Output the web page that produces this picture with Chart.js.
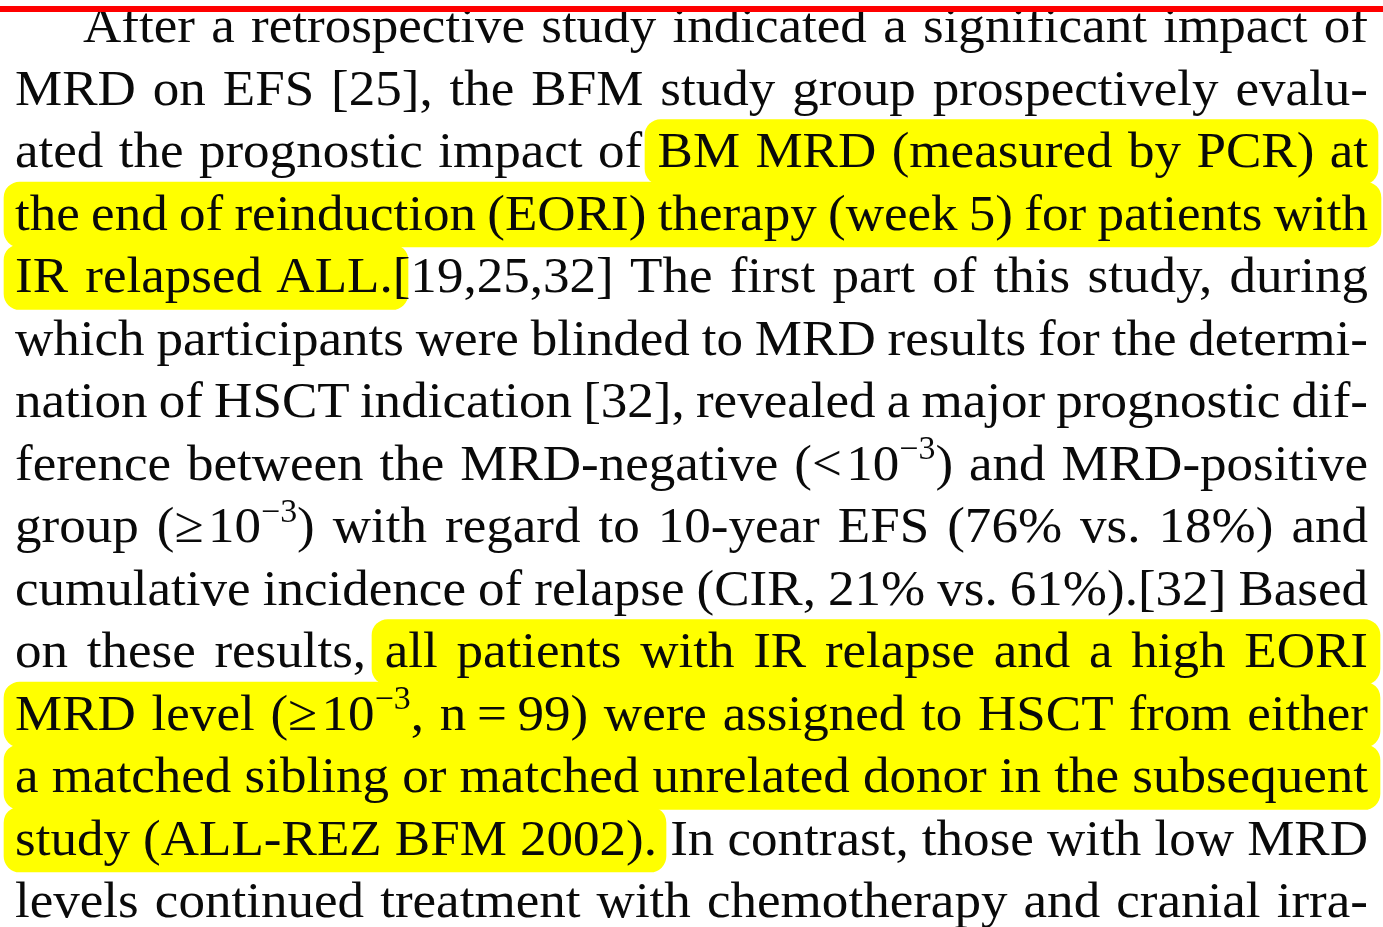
<!DOCTYPE html>
<html>
<head>
<meta charset="utf-8">
<script src="https://cdn.jsdelivr.net/npm/chart.js"></script>
<style>
  html, body { margin: 0; padding: 0; background: #fff; overflow: hidden; }
  #page { position: relative; width: 1383px; height: 927px; overflow: hidden; }
  #marks { position: absolute; left: 0; top: 0; }
  #rule { position: absolute; left: 0; top: 6px; width: 1383px; height: 6px; background: #ff0000; z-index: 3; }
  .line {
    position: absolute; white-space: nowrap; z-index: 2;
    font-family: "Liberation Serif", "Times New Roman", serif;
    font-size: 51px; line-height: 1; color: #0a0a0a;
    transform-origin: 0 0;
  }
  .sup { font-size: 0.64em; position: relative; top: -0.62em; }
  .probe { display: inline-block; width: 0; height: 0; }
</style>
</head>
<body>
<div id="page">
  <canvas id="marks" width="1383" height="927"></canvas>
  <div id="rule"></div>
</div>
<script>
// one entry per printed line, ^{..} marks a superscript
const textLines = [
  "After a retrospective study indicated a significant impact of",
  "MRD on EFS [25], the BFM study group prospectively evalu-",
  "ated the prognostic impact of BM MRD (measured by PCR) at",
  "the end of reinduction (EORI) therapy (week 5) for patients with",
  "IR relapsed ALL.[19,25,32] The first part of this study, during",
  "which participants were blinded to MRD results for the determi-",
  "nation of HSCT indication [32], revealed a major prognostic dif-",
  "ference between the MRD-negative (<\u200a10^{\u22123}) and MRD-positive",
  "group (\u2265\u200a10^{\u22123}) with regard to 10-year EFS (76% vs. 18%) and",
  "cumulative incidence of relapse (CIR, 21% vs. 61%).[32] Based",
  "on these results, all patients with IR relapse and a high EORI",
  "MRD level (\u2265\u200a10^{\u22123}, n\u2009=\u200999) were assigned to HSCT from either",
  "a matched sibling or matched unrelated donor in the subsequent",
  "study (ALL-REZ BFM 2002). In contrast, those with low MRD",
  "levels continued treatment with chemotherapy and cranial irra-"
];
const lineNumbers = textLines.map((t, i) => i + 1);

// highlighter strokes: line number, start and end along the line
const highlightLines = [3, 4, 5, 11, 12, 13, 14];
const highlightStart = [645, 4, 4, 372, 4, 4, 4];
const highlightEnd = [1378, 1381, 408, 1380, 1380, 1380, 666];

const LEFT = 15, RIGHT = 1368, INDENT = 68, STRETCH = 1.04;

const page = document.getElementById("page");
const lineDivs = textLines.map((txt, i) => {
  const div = document.createElement("div");
  div.className = "line";
  const probe = document.createElement("span");
  probe.className = "probe";
  div.appendChild(probe);
  const body = document.createElement("span");
  txt.split(/(\^\{[^}]*\})/).forEach(part => {
    if (part.startsWith("^{")) {
      const s = document.createElement("span");
      s.className = "sup";
      s.textContent = part.slice(2, -1);
      body.appendChild(s);
    } else if (part) {
      body.appendChild(document.createTextNode(part));
    }
  });
  div.appendChild(body);
  page.appendChild(div);
  // justify the line by spreading (or squeezing) the word gaps
  const x0 = i === 0 ? LEFT + INDENT : LEFT;
  div.style.left = x0 + "px";
  const natural = body.getBoundingClientRect().width;
  const gaps = (body.textContent.match(/ /g) || []).length;
  const target = (RIGHT - x0) / STRETCH;
  if (gaps) body.style.wordSpacing = ((target - natural) / gaps) + "px";
  div.style.transform = "scaleX(" + STRETCH + ")";
  return { div, probe };
});

const placeText = {
  id: "placeText",
  afterRender(chart) {
    const y = chart.scales.y;
    lineDivs.forEach((d, i) => {
      const baseline = y.getPixelForValue(lineNumbers[i]) + 15;
      d.div.style.top = (baseline - d.probe.offsetTop) + "px";
    });
  }
};

new Chart(document.getElementById("marks"), {
  type: "bar",
  data: {
    datasets: [{
      data: highlightLines.map((n, i) => ({ y: n, x: [highlightStart[i], highlightEnd[i]] })),
      backgroundColor: "#ffff00",
      borderWidth: 0,
      borderSkipped: false,
      borderRadius: 16,
      barThickness: 65
    }]
  },
  options: {
    indexAxis: "y",
    responsive: false,
    animation: false,
    layout: { padding: 0 },
    plugins: { legend: { display: false }, tooltip: { enabled: false } },
    scales: {
      x: { type: "linear", display: false, offset: false, min: 0, max: 1383 },
      y: { type: "linear", display: false, offset: false, reverse: true, min: 0.568, max: 15.4 }
    }
  },
  plugins: [placeText]
});
</script>
</body>
</html>
